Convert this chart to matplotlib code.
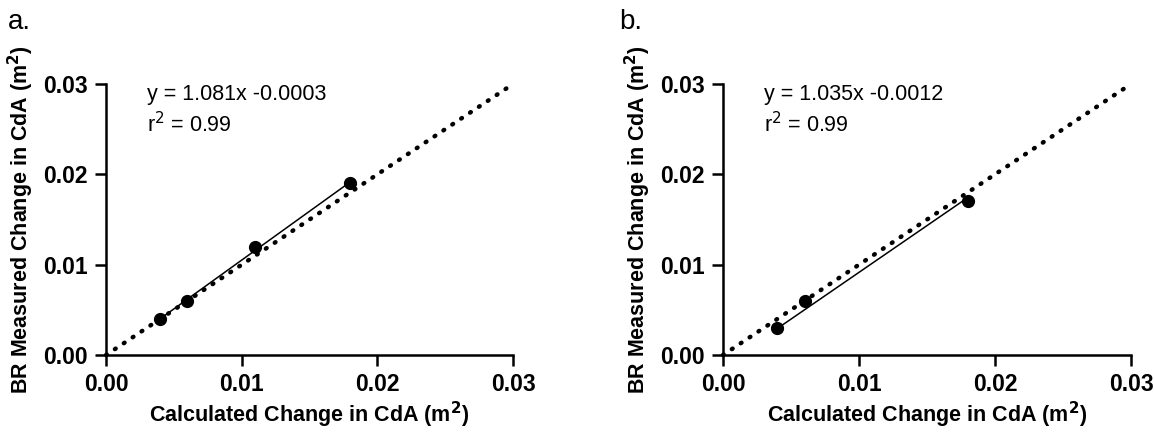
import matplotlib
matplotlib.use("Agg")
import matplotlib.pyplot as plt
import numpy as np

plt.rcParams['font.family'] = ['Liberation Sans', 'DejaVu Sans']

# panel a data
a_calc = [0.004, 0.006, 0.011, 0.018]
a_meas = [0.004, 0.006, 0.012, 0.019]
a_slope, a_icpt = 1.081, -0.0003
a_eq = "y = 1.081x -0.0003"

# panel b data
b_calc = [0.004, 0.006, 0.018]
b_meas = [0.003, 0.006, 0.017]
b_slope, b_icpt = 1.035, -0.0012
b_eq = "y = 1.035x -0.0012"

r2_text = "r$^2$ = 0.99"
ident = [0, 0.03]
ticks = [0.00, 0.01, 0.02, 0.03]
tick_labels = ["0.00", "0.01", "0.02", "0.03"]

fig = plt.figure(figsize=(11.54, 4.33), dpi=100)
ax_a = fig.add_axes([0.0919, 0.1801, 0.3527, 0.6259])
ax_b = fig.add_axes([0.6265, 0.1801, 0.3536, 0.6259])


def draw(ax, xs, ys, slope, icpt, eq):
    ax.plot(ident, ident, color="black", lw=3.2, linestyle=(0, (0.2, 2.2)),
            dash_capstyle="round", clip_on=False, zorder=1)
    fx = np.array([min(xs), max(xs)])
    ax.plot(fx, slope * fx + icpt, color="black", lw=1.1, zorder=2)
    ax.plot(xs, ys, "o", color="black", ms=8.5, zorder=3)
    ax.set_xlim(0, 0.03)
    ax.set_ylim(0, 0.03)
    ax.set_xticks(ticks)
    ax.set_xticklabels(tick_labels)
    ax.set_yticks(ticks)
    ax.set_yticklabels(tick_labels)
    for s in ["top", "right"]:
        ax.spines[s].set_visible(False)
    for s in ["left", "bottom"]:
        ax.spines[s].set_linewidth(1.8)
    ax.tick_params(width=1.8, length=8, labelsize=16.5, pad=5)
    for lab in ax.get_xticklabels() + ax.get_yticklabels():
        lab.set_fontweight("bold")
    ax.set_xlabel("Calculated Change in CdA (m$^\\mathbf{2}$)", fontsize=15.5,
                  fontweight="bold", labelpad=3)
    ax.set_ylabel("BR Measured Change in CdA (m$^\\mathbf{2}$)", fontsize=15.5,
                  fontweight="bold", labelpad=5)
    ax.text(0.003, 0.0288, eq, fontsize=15.5, va="center")
    ax.text(0.003, 0.0255, r2_text, fontsize=15.5, va="center")


draw(ax_a, a_calc, a_meas, a_slope, a_icpt, a_eq)
draw(ax_b, b_calc, b_meas, b_slope, b_icpt, b_eq)

fig.text(0.007, 0.933, "a.", fontsize=20, va="baseline")
fig.text(0.537, 0.933, "b.", fontsize=20, va="baseline")

fig.savefig("out.png", dpi=100)
